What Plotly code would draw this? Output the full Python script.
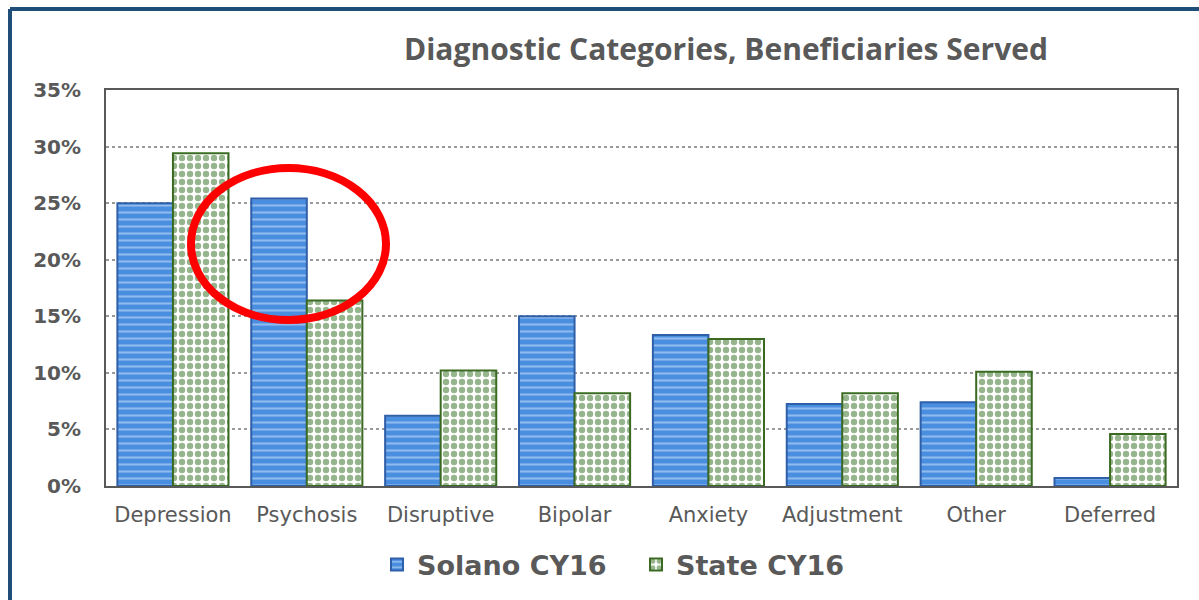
import plotly.graph_objects as go

categories = ["Depression", "Psychosis", "Disruptive", "Bipolar", "Anxiety", "Adjustment", "Other", "Deferred"]
solano = [25.0, 25.4, 6.2, 15.0, 13.35, 7.25, 7.4, 0.7]
state = [29.4, 16.4, 10.2, 8.2, 13.0, 8.2, 10.1, 4.6]
tick_vals = [0, 5, 10, 15, 20, 25, 30, 35]
tick_text = ["0%", "5%", "10%", "15%", "20%", "25%", "30%", "35%"]

W, H = 1199, 600
L, R, T, B = 106, 1177, 90, 486

fig = go.Figure()
fig.add_trace(go.Bar(
    x=categories, y=solano, name="Solano CY16",
    marker=dict(color="#4a8ee0", line=dict(color="#2f5fa8", width=2),
                pattern=dict(shape="-", fillmode="overlay", fgcolor="#d6e7fa", size=7, solidity=0.3)),
))
fig.add_trace(go.Bar(
    x=categories, y=state, name="State CY16",
    marker=dict(color="white", line=dict(color="#3b6b22", width=2),
                pattern=dict(shape=".", fillmode="overlay", fgcolor="#2e6b1a", size=8, solidity=0.5)),
))

gray = "#595959"
fig.update_layout(
    width=W, height=H,
    margin=dict(l=L, r=W - R, t=T, b=H - B, autoexpand=False),
    paper_bgcolor="white", plot_bgcolor="white",
    barmode="group", bargap=0.17, bargroupgap=0,
    font=dict(family="DejaVu Sans", color=gray),
    showlegend=True,
    legend=dict(orientation="h", x=(377 - L) / (R - L), xanchor="left", y=(H - 565) / H, yanchor="middle",
                yref="container",
                font=dict(size=27, color=gray, family="DejaVu Sans", weight="bold"),
                traceorder="normal", entrywidth=214),
    xaxis=dict(showline=True, linecolor=gray, linewidth=2, mirror=True,
               tickfont=dict(size=21, color=gray, family="DejaVu Sans"), ticks="",
               ticklabelstandoff=9),
    yaxis=dict(range=[0, 35], tickvals=tick_vals, ticktext=tick_text,
               showline=True, linecolor=gray, linewidth=2, mirror=True,
               showgrid=True, gridcolor="#9a9a9a", griddash="dot", gridwidth=1.5,
               tickfont=dict(size=20, color=gray, family="DejaVu Sans", weight="bold"),
               ticklabelstandoff=19, zeroline=False),
    annotations=[dict(text="<b>Diagnostic Categories, Beneficiaries Served</b>",
                      xref="paper", yref="paper", x=(726 - L) / (R - L), y=(B - 48) / (B - T),
                      xanchor="center", yanchor="middle", showarrow=False,
                      font=dict(size=30, color=gray, family="Open Sans"))],
    shapes=[
        dict(type="line", xref="paper", yref="paper",
             x0=(10 - L) / (R - L), x1=(W + 5 - L) / (R - L),
             y0=(B - 9) / (B - T), y1=(B - 9) / (B - T),
             line=dict(color="#1f4e79", width=4)),
        dict(type="line", xref="paper", yref="paper",
             x0=(10 - L) / (R - L), x1=(10 - L) / (R - L),
             y0=(B - 9) / (B - T), y1=(B - H - 5) / (B - T),
             line=dict(color="#1f4e79", width=4)),
        dict(type="circle", xref="paper", yref="paper",
             x0=(191 - L) / (R - L), x1=(386 - L) / (R - L),
             y0=(B - 168) / (B - T), y1=(B - 320) / (B - T),
             line=dict(color="#ff0000", width=8)),
    ],
)
fig.write_html("out.html", config={"displayModeBar": False},
               post_script="document.body.style.margin='0';")
